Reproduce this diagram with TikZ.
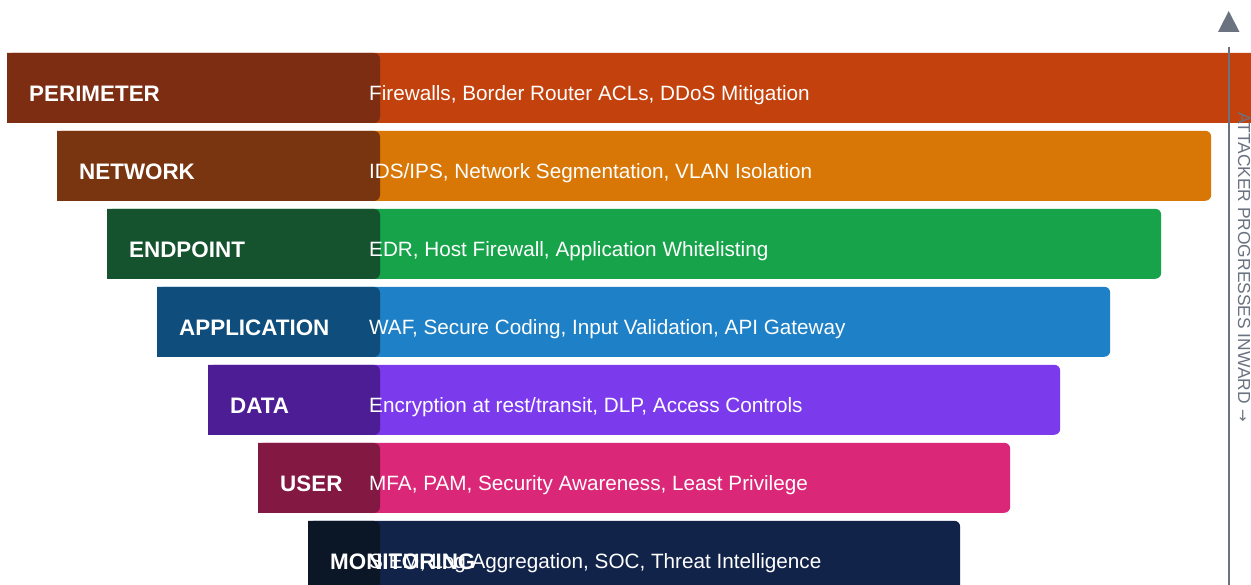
\documentclass[tikz,border=0pt]{standalone}
\usepackage{fontspec}
\setmainfont{Liberation Sans}
\newfontfamily\arrowfont{DejaVu Sans}
\definecolor{perbar}{HTML}{C2410C}\definecolor{perdark}{HTML}{7C2D12}
\definecolor{netbar}{HTML}{D97706}\definecolor{netdark}{HTML}{78350F}
\definecolor{endbar}{HTML}{16A34A}\definecolor{enddark}{HTML}{14532D}
\definecolor{appbar}{HTML}{1E80C6}\definecolor{appdark}{HTML}{0F4E7C}
\definecolor{datbar}{HTML}{7C3AED}\definecolor{datdark}{HTML}{4C1D95}
\definecolor{usrbar}{HTML}{DB2777}\definecolor{usrdark}{HTML}{831843}
\definecolor{monbar}{HTML}{12234A}\definecolor{mondark}{HTML}{0B1627}
\definecolor{axisgray}{HTML}{6B7280}
\tikzset{
  layerbar/.style={rectangle, rounded corners=6pt, inner sep=0pt, minimum height=70pt, anchor=south west},
  layerlabel/.style={text=white, inner sep=0pt, anchor=base west, font=\fontsize{22.4}{26}\selectfont\bfseries},
  layerdesc/.style={text=white, inner sep=0pt, anchor=base west, font=\fontsize{20.7}{24}\selectfont},
  axisline/.style={draw=axisgray, line width=2.8pt},
  axistext/.style={text=axisgray, inner sep=0pt, anchor=base west, rotate=-90, font=\fontsize{17.4}{20}\selectfont}
}
% #1 name, #2 left, #3 width, #4 bottom y, #5 bar colour, #6 dark colour, #7 label, #8 description
\newcommand\drawlayer[8]{%
  \node[layerbar, fill=#5, minimum width=#3pt] (bar#1) at (#2,#4) {};
  \fill[#6] (#2,#4+70) -- (374,#4+70) arc[start angle=90,end angle=0,radius=6pt]
     -- (380,#4+6) arc[start angle=0,end angle=-90,radius=6pt] -- (#2,#4) -- cycle;
  \node[layerlabel] (lab#1) at (#2+22,#4+21.3) {#7};
  \node[layerdesc] (desc#1) at (369,#4+22) {#8};
}
\begin{document}
\begin{tikzpicture}[x=1pt,y=1pt]
\useasboundingbox (0,0) rectangle (1251,585);
\clip (0,0) rectangle (1251,585);
\fill[white] (0,0) rectangle (1251,585);
\drawlayer{per}{7}{1254}{462}{perbar}{perdark}{PERIMETER}{Firewalls, Border Router ACLs, DDoS Mitigation}
\drawlayer{net}{57}{1154}{384}{netbar}{netdark}{NETWORK}{IDS/IPS, Network Segmentation, VLAN Isolation}
\drawlayer{end}{107}{1054}{306}{endbar}{enddark}{ENDPOINT}{EDR, Host Firewall, Application Whitelisting}
\drawlayer{app}{157}{953}{228}{appbar}{appdark}{APPLICATION}{WAF, Secure Coding, Input Validation, API Gateway}
\drawlayer{dat}{208}{852}{150}{datbar}{datdark}{DATA}{Encryption at rest/transit, DLP, Access Controls}
\drawlayer{usr}{258}{752}{72}{usrbar}{usrdark}{USER}{MFA, PAM, Security Awareness, Least Privilege}
\drawlayer{mon}{308}{652}{-6}{monbar}{mondark}{MONITORING}{SIEM, Log Aggregation, SOC, Threat Intelligence}
% attacker axis
\coordinate (axbot) at (1229,0);
\coordinate (axtop) at (1229,538);
\draw[axisline] (axbot) -- (axtop);
\fill[axisgray] (1218,553) -- (1239.5,553) -- (1228.7,574) -- cycle;
\node[axistext] (axlabel) at (1238,473) {ATTACKER PROGRESSES INWARD\hspace{6pt}{\arrowfont\fontsize{15}{18}\selectfont →}};
\end{tikzpicture}
\end{document}
